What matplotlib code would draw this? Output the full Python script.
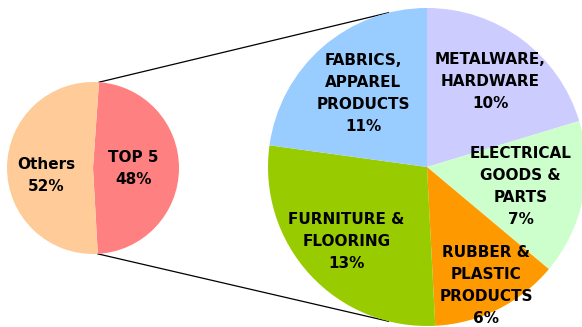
import numpy as np
import matplotlib.pyplot as plt

# small pie
small_labels = ["TOP 5\n48%", "Others\n52%"]
small_values = [48, 52]
small_colors = ["#FF8080", "#FFCC99"]

# breakdown of the top 5 (clockwise from top)
top5_labels = ["METALWARE,\nHARDWARE\n10%",
               "ELECTRICAL\nGOODS &\nPARTS\n7%",
               "RUBBER &\nPLASTIC\nPRODUCTS\n6%",
               "FURNITURE &\nFLOORING\n13%",
               "FABRICS,\nAPPAREL\nPRODUCTS\n11%"]
top5_values = [9.8, 7.6, 6.3, 13.5, 11.0]
top5_colors = ["#CCCCFF", "#CCFFCC", "#FF9900", "#99CC00", "#99CCFF"]

W, H = 582, 327
fig = plt.figure(figsize=(W / 100, H / 100), dpi=100)
ax = fig.add_axes([0, 0, 1, 1])

c_small, r_small = (93, 159), 86
c_big, r_big = (427, 160), 159

w_small, _ = ax.pie(small_values, colors=small_colors, startangle=86,
                    counterclock=False, center=c_small, radius=r_small,
                    wedgeprops=dict(linewidth=0), frame=True)
w_big, _ = ax.pie(top5_values, colors=top5_colors, startangle=90,
                  counterclock=False, center=c_big, radius=r_big,
                  wedgeprops=dict(linewidth=0), frame=True)
ax.set_xlim(0, W)
ax.set_ylim(0, H)
ax.set_aspect("equal")
ax.axis("off")

# connector lines, drawn under the pies
top5 = w_small[0]
for a_small, a_big in [(top5.theta2, 104), (top5.theta1, -104)]:
    x0 = c_small[0] + r_small * np.cos(np.radians(a_small))
    y0 = c_small[1] + r_small * np.sin(np.radians(a_small))
    x1 = c_big[0] + r_big * np.cos(np.radians(a_big))
    y1 = c_big[1] + r_big * np.sin(np.radians(a_big))
    ax.plot([x0, x1], [y0, y1], color="black", lw=0.9, zorder=0)

font = dict(family="DejaVu Sans", weight="bold", fontsize=11,
            ha="center", va="center", linespacing=1.58)

# label placement: fraction of radius, angle nudge in degrees
small_dist = [0.47, 0.55]
small_nudge = [0, 10]
for w, lab, d, n in zip(w_small, small_labels, small_dist, small_nudge):
    a = np.radians((w.theta1 + w.theta2) / 2 + n)
    ax.text(c_small[0] + d * r_small * np.cos(a),
            c_small[1] + d * r_small * np.sin(a), lab, **font)

big_dist = [0.67, 0.6, 0.83, 0.69, 0.61]
for w, lab, d in zip(w_big, top5_labels, big_dist):
    a = np.radians((w.theta1 + w.theta2) / 2)
    ax.text(c_big[0] + d * r_big * np.cos(a),
            c_big[1] + d * r_big * np.sin(a), lab, **font)

fig.savefig("out.png", dpi=100)
